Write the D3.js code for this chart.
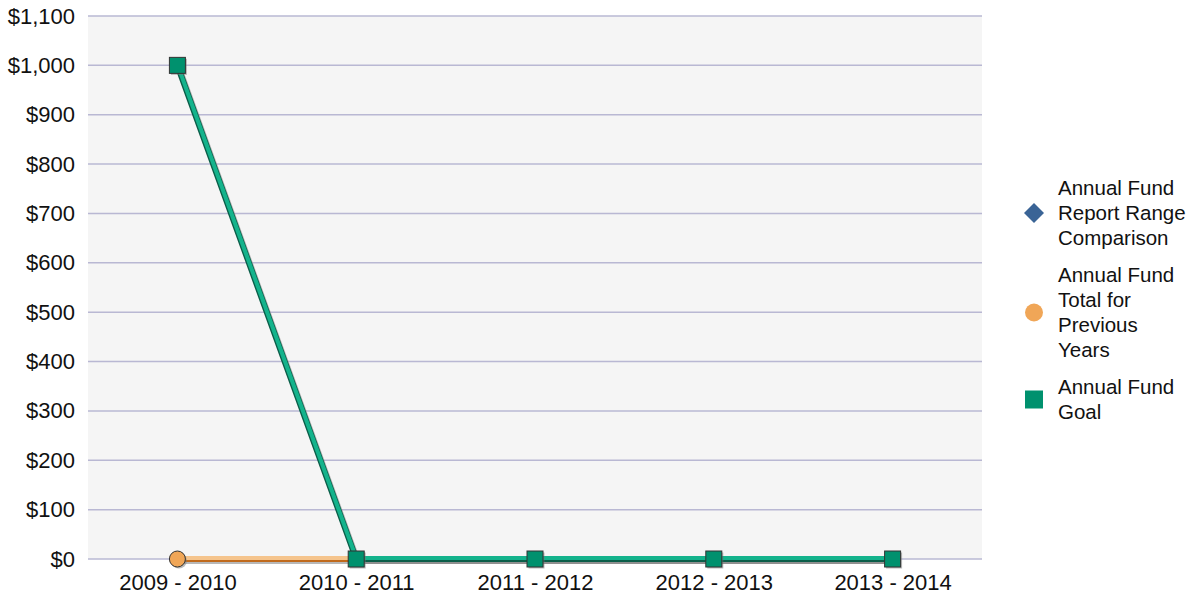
<!DOCTYPE html>
<html>
<head>
<meta charset="utf-8">
<script src="https://d3js.org/d3.v7.min.js"></script>
<style>
  body { margin: 0; background: #fff; }
  text { font-family: "Liberation Sans", Arial, sans-serif; }
</style>
</head>
<body>
<div id="chart"></div>
<script>
// data
const years = ["2009 - 2010", "2010 - 2011", "2011 - 2012", "2012 - 2013", "2013 - 2014"];
const reportRange = [null, 0, 0, 0, 0];
const previousYears = [0, 0, 0, 0, 0];
const fundGoal = [1000, 0, 0, 0, 0];
const yTicks = [0, 100, 200, 300, 400, 500, 600, 700, 800, 900, 1000, 1100];

const W = 1189, H = 597;
const margin = {top: 16, right: 207, bottom: 38, left: 88};
const width = W - margin.left - margin.right,
      height = H - margin.top - margin.bottom;

const svg = d3.select("#chart").append("svg")
  .attr("width", W).attr("height", H);
const g = svg.append("g")
  .attr("transform", `translate(${margin.left},${margin.top})`);

const x = d3.scalePoint().domain(years).range([0, width]).padding(0.5);
const y = d3.scaleLinear().domain([0, 1100]).range([height, 0]);

// plot background
g.append("rect")
  .attr("width", width).attr("height", height)
  .attr("fill", "#f5f5f5");

// gridlines
g.selectAll(".grid").data(yTicks).join("line")
  .attr("class", "grid")
  .attr("x1", 0).attr("x2", width)
  .attr("y1", d => y(d)).attr("y2", d => y(d))
  .attr("stroke", "#b9b8d3").attr("stroke-width", 1.5);

// y axis
const yAxis = g.append("g")
  .call(d3.axisLeft(y).tickValues(yTicks).tickSize(0).tickPadding(13)
    .tickFormat(d => "$" + d3.format(",")(d)));
yAxis.select(".domain").remove();
yAxis.selectAll("text").style("font-size", "22px").attr("fill", "#111");

// x axis
const xAxis = g.append("g")
  .attr("transform", `translate(0,${height})`)
  .call(d3.axisBottom(x).tickSize(0).tickPadding(15));
xAxis.select(".domain").remove();
xAxis.selectAll("text").style("font-size", "22px").attr("fill", "#111");

const series = [
  {name: ["Annual Fund", "Report Range", "Comparison"], values: reportRange,
   light: "#5b86bd", dark: "#2c4f7c", fill: "#3a6496", shape: "diamond"},
  {name: ["Annual Fund", "Total for", "Previous", "Years"], values: previousYears,
   light: "#f5c48c", dark: "#c06a1c", fill: "#f0a657", shape: "circle"},
  {name: ["Annual Fund", "Goal"], values: fundGoal,
   light: "#14b38c", dark: "#0b5e49", fill: "#00916e", shape: "square"}
];

const line = d3.line()
  .defined(d => d.v !== null)
  .x(d => x(d.k)).y(d => y(d.v));

series.forEach(s => {
  const pts = years.map((k, i) => ({k, v: s.values[i]}));
  // shadow
  g.append("path").datum(pts)
    .attr("d", line)
    .attr("transform", "translate(1.5,2)")
    .attr("fill", "none").attr("stroke", "#888").attr("stroke-opacity", 0.6)
    .attr("stroke-width", 6).attr("stroke-linejoin", "round");
  g.append("path").datum(pts)
    .attr("d", line)
    .attr("fill", "none").attr("stroke", s.dark)
    .attr("stroke-width", 6).attr("stroke-linejoin", "round");
  g.append("path").datum(pts)
    .attr("d", line)
    .attr("transform", "translate(0,-1)")
    .attr("fill", "none").attr("stroke", s.light)
    .attr("stroke-width", 4).attr("stroke-linejoin", "round");
});

// markers
function drawMarker(sel, shape, cx, cy, fill, size) {
  let m;
  if (shape === "circle") {
    m = sel.append("circle").attr("cx", cx).attr("cy", cy).attr("r", size / 2);
  } else if (shape === "square") {
    m = sel.append("rect").attr("x", cx - size / 2).attr("y", cy - size / 2)
      .attr("width", size).attr("height", size);
  } else {
    const r = size / 2 + 1;
    m = sel.append("path")
      .attr("d", `M${cx},${cy - r}L${cx + r},${cy}L${cx},${cy + r}L${cx - r},${cy}Z`);
  }
  return m.attr("fill", fill);
}

series.forEach(s => {
  years.forEach((k, i) => {
    const v = s.values[i];
    if (v === null) return;
    const cx = x(k), cy = y(v);
    if (s.shape === "circle" && i > 0) return;
    if (s.shape === "diamond") return;
    // marker shadow
    drawMarker(g, s.shape, cx + 1.5, cy + 1.5, "#777", 16).attr("opacity", 0.5);
    drawMarker(g, s.shape, cx, cy, s.fill, 16)
      .attr("stroke", "#333").attr("stroke-width", 1);
  });
});

// legend
const legend = svg.append("g");
let ly = 188;
const lineH = 25;
series.forEach(s => {
  const n = s.name.length;
  const cy = ly + (n - 1) * lineH / 2;
  drawMarker(legend, s.shape, 1034, cy, s.fill, 18);
  const t = legend.append("text")
    .attr("x", 1058).attr("y", ly)
    .style("font-size", "20.5px").attr("fill", "#111");
  s.name.forEach((w, j) => {
    t.append("tspan").attr("x", 1058).attr("y", ly + j * lineH)
      .attr("dy", "0.35em").text(w);
  });
  ly += n * lineH + 12;
});
</script>
</body>
</html>
